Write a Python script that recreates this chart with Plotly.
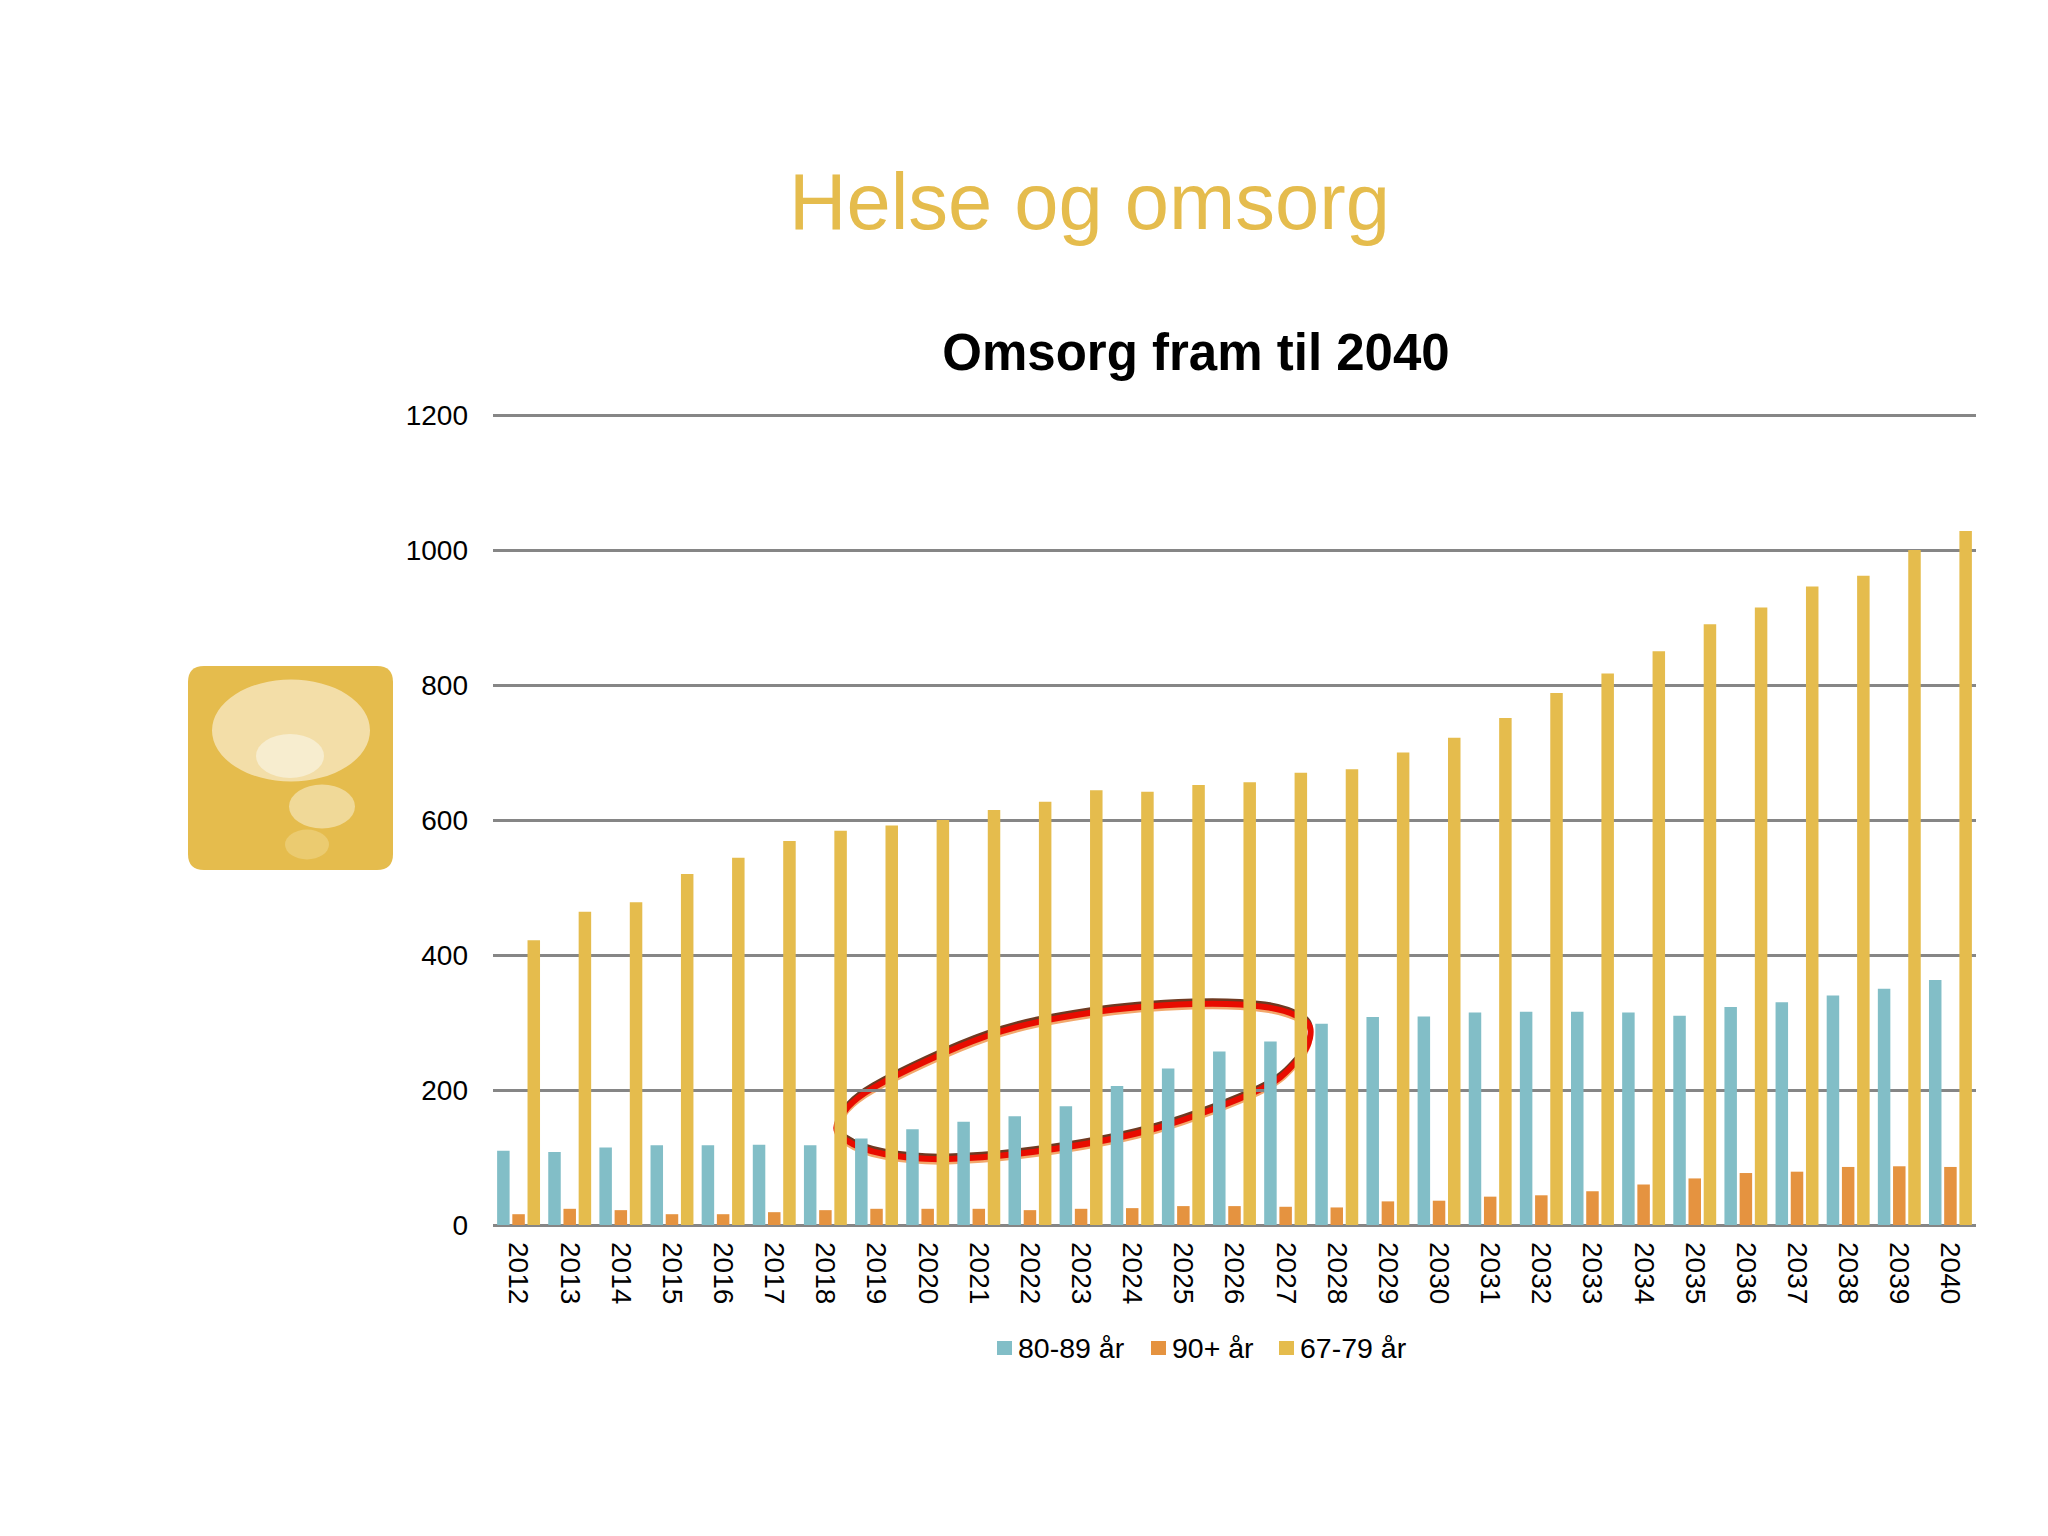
import plotly.graph_objects as go

years = [str(y) for y in range(2012, 2041)]
age_80_89 = [110, 108, 115, 118, 118, 119, 118, 128, 142, 153, 161, 176, 206, 232, 257, 272, 298,
             308, 309, 315, 316, 316, 315, 310, 323, 330, 340, 350, 363]
age_90 = [16, 24, 22, 16, 16, 19, 22, 24, 24, 24, 22, 24, 25, 28, 28, 27, 26,
          35, 36, 42, 44, 50, 60, 69, 77, 79, 86, 87, 86]
age_67_79 = [422, 464, 478, 520, 544, 569, 584, 592, 600, 615, 627, 644, 642, 652, 656, 670, 675,
             700, 722, 751, 788, 817, 850, 890, 915, 946, 962, 1000, 1028]
y_ticks = [0, 200, 400, 600, 800, 1000, 1200]
series_names = ["80-89 år", "90+ år", "67-79 år"]

TEAL, ORANGE, GOLD = "#82BEC7", "#E59340", "#E5BC4D"
W, H = 2048, 1536
L, R, T, B = 493, 1976, 413, 1225
Y_TOP = (B - T) / 0.675


def px(x):
    return (x - L) / (R - L)


def py(y):
    return (B - y) / (B - T)


def ellipse(cx, cy, rx, ry, color):
    return dict(type="circle", xref="paper", yref="paper", layer="above",
                x0=px(cx - rx), x1=px(cx + rx), y0=py(cy + ry), y1=py(cy - ry),
                fillcolor=color, line_width=0)


def rounded_rect(x0, y0, x1, y1, r):
    p = (f"M{px(x0 + r)},{py(y0)} L{px(x1 - r)},{py(y0)} Q{px(x1)},{py(y0)} {px(x1)},{py(y0 + r)} "
         f"L{px(x1)},{py(y1 - r)} Q{px(x1)},{py(y1)} {px(x1 - r)},{py(y1)} "
         f"L{px(x0 + r)},{py(y1)} Q{px(x0)},{py(y1)} {px(x0)},{py(y1 - r)} "
         f"L{px(x0)},{py(y0 + r)} Q{px(x0)},{py(y0)} {px(x0 + r)},{py(y0)} Z")
    return dict(type="path", xref="paper", yref="paper", layer="above", path=p,
                fillcolor=GOLD, line_width=0)


loop_outline = [(838, 1122), (873, 1088), (987, 1036), (1089, 1013), (1193, 1004), (1265, 1007),
                (1304, 1020), (1310, 1038), (1296, 1062), (1259, 1090), (1157, 1128), (1054, 1149),
                (948, 1159), (884, 1154), (846, 1140)]


def loop_path(dy):
    pts = [(x, y + dy) for x, y in loop_outline]
    n = len(pts)
    d = f"M{px(pts[0][0])},{py(pts[0][1])}"
    for i in range(n):
        p0, p1, p2, p3 = pts[i - 1], pts[i], pts[(i + 1) % n], pts[(i + 2) % n]
        c1 = (p1[0] + (p2[0] - p0[0]) / 6, p1[1] + (p2[1] - p0[1]) / 6)
        c2 = (p2[0] - (p3[0] - p1[0]) / 6, p2[1] - (p3[1] - p1[1]) / 6)
        d += f" C{px(c1[0])},{py(c1[1])} {px(c2[0])},{py(c2[1])} {px(p2[0])},{py(p2[1])}"
    return d + " Z"


def loop_shape(dy, color, width):
    return dict(type="path", xref="paper", yref="paper", layer="below", path=loop_path(dy),
                line=dict(color=color, width=width))


fig = go.Figure()
for name, vals, col in zip(series_names, [age_80_89, age_90, age_67_79], [TEAL, ORANGE, GOLD]):
    fig.add_bar(name=name, x=years, y=vals, marker_color=col, marker_line_width=0, showlegend=False)

legend_swatches = []
legend_labels = []
for name, col, sx in zip(series_names, [TEAL, ORANGE, GOLD], [997, 1151, 1279]):
    legend_swatches.append(dict(type="rect", xref="paper", yref="paper", layer="above",
                                x0=px(sx), x1=px(sx + 15), y0=py(1355), y1=py(1341),
                                fillcolor=col, line_width=0))
    legend_labels.append(dict(text=name, xref="paper", yref="paper", x=px(sx + 19), y=py(1348),
                              xanchor="left", yanchor="middle", showarrow=False,
                              font=dict(size=28.5, color="black")))

fig.update_layout(
    width=W, height=H, autosize=False,
    margin=dict(l=L, r=W - R, t=T, b=H - B, pad=0),
    paper_bgcolor="white", plot_bgcolor="white",
    barmode="group", bargap=0.108, bargroupgap=0.178,
    showlegend=False,
    font=dict(family="Liberation Sans, Arial, sans-serif", color="black", size=28),
    title=dict(text="<b>Omsorg fram til 2040</b>", xref="container", yref="container",
               x=1196 / W, xanchor="center", y=1 - 352 / H, yanchor="middle",
               font=dict(size=51, color="black")),
    xaxis=dict(type="category", tickangle=90, ticks="", showgrid=False, showline=False,
               ticklabelstandoff=16, tickfont=dict(size=28), zeroline=False),
    yaxis=dict(range=[0, Y_TOP], tickvals=y_ticks, showgrid=True, gridcolor="#868686", gridwidth=2.5,
               zeroline=True, zerolinecolor="#868686", zerolinewidth=3, ticks="",
               ticklabelstandoff=24, tickfont=dict(size=28), showline=False),
    annotations=[dict(text="Helse og omsorg", xref="paper", yref="paper", x=px(1089), y=py(201),
                      xanchor="center", yanchor="middle", showarrow=False,
                      font=dict(size=79.5, color=GOLD))] + legend_labels,
    shapes=[
        loop_shape(-3.5, "#6E3A22", 4),
        loop_shape(3.5, "#F2A86C", 4),
        loop_shape(0, "#E80C00", 6),
        rounded_rect(188, 666, 393, 870, 16),
        ellipse(291, 730.5, 79, 51, "#F3DEA8"),
        ellipse(290, 756, 34, 22, "#F7EDCF"),
        ellipse(322, 806.5, 33, 22, "#F0D998"),
        ellipse(307, 844.5, 22, 15, "#EBCB70"),
    ] + legend_swatches,
)

fig.write_html("out.html", config=dict(displayModeBar=False),
               post_script="document.body.style.margin='0';document.body.style.overflow='hidden';")
